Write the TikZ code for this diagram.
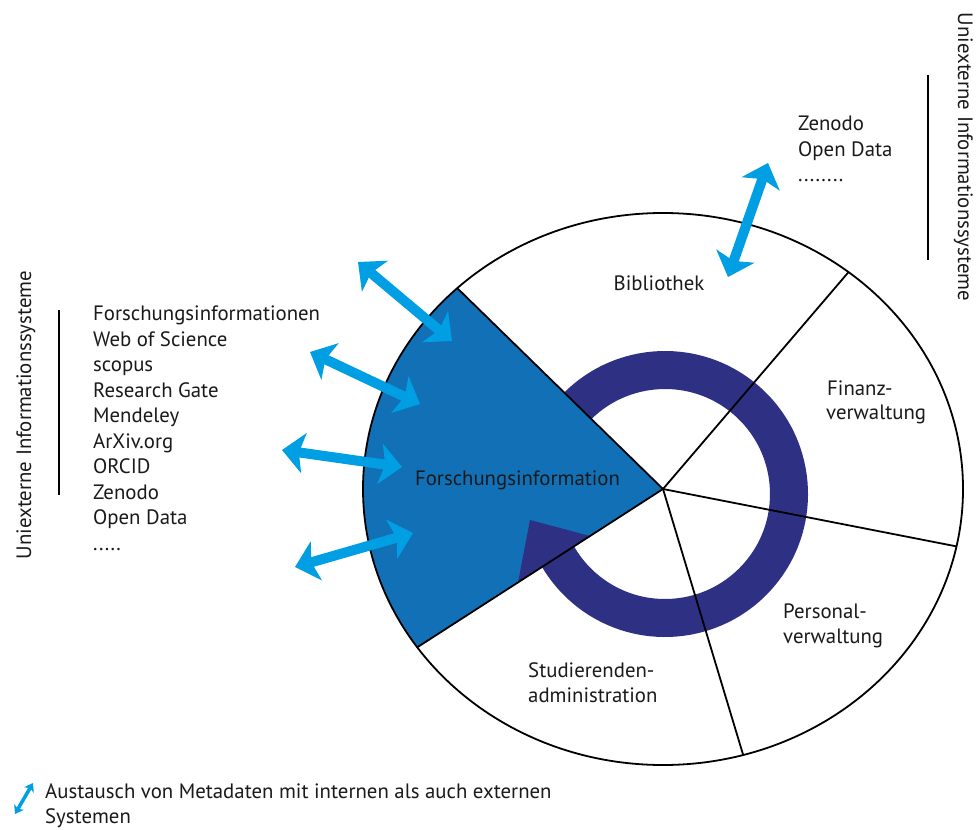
\documentclass[tikz,border=0pt]{standalone}
\usepackage{fontspec}
\setmainfont{PT Sans}
\usetikzlibrary{arrows.meta,calc}
\definecolor{fblue}{RGB}{18,112,183}
\definecolor{navy}{RGB}{46,48,131}
\definecolor{cyanA}{RGB}{0,159,227}
\definecolor{txt}{RGB}{26,26,26}
\begin{document}
\begin{tikzpicture}[x=1pt,y=-1pt,
  lbl/.style={font=\fontsize{20.8}{25}\selectfont, text=txt, inner sep=0pt},
  xarrow/.style={cyanA, line width=10pt, {Stealth[length=22pt,width=40pt,inset=5pt]}-{Stealth[length=22pt,width=40pt,inset=5pt]}},
  smallarrow/.style={cyanA, line width=3.5pt, {Stealth[length=8pt,width=11pt,inset=2pt]}-{Stealth[length=8pt,width=11pt,inset=2pt]}},
  edge/.style={line width=1.8pt, black},
  bar/.style={line width=1.8pt, black}]
\useasboundingbox (0,0) rectangle (976,829);
\fill[white] (0,0) rectangle (976,829);
% geometry
\coordinate (C) at (663,489);
\coordinate (R) at (665,494);
\coordinate (P1) at ($(C)+(226.7:300 and 276)$);
\coordinate (P2) at ($(C)+(145:300 and 276)$);
\coordinate (P3) at ($(C)+(-51.8:300 and 276)$);
\coordinate (P4) at ($(C)+(12:300 and 276)$);
\coordinate (P5) at ($(C)+(74.5:300 and 276)$);
% ring
\draw[navy, line width=38pt] ($(R)+(220:124)$) arc[start angle=220, end angle=520, radius=124];
% blue sector
\fill[fblue] (C) -- (P2) arc[start angle=145, end angle=226.7, x radius=300, y radius=276] -- cycle;
% arrow tip of ring
\coordinate (T1) at (530,520);
\coordinate (T2) at (590,536);
\coordinate (T3) at (518,582.5);
\fill[navy] (T1) -- (T2) -- (T3) -- cycle;
% outline and spokes
\draw[edge] (C) ellipse[x radius=300, y radius=276];
\draw[edge] (C) -- (P1);
\draw[edge] (C) -- (P2);
\draw[edge] (C) -- (P3);
\draw[edge] (C) -- (P4);
\draw[edge] (C) -- (P5);
% exchange arrows
\coordinate (A1a) at (358,262); \coordinate (A1b) at (452,341);
\coordinate (A2a) at (310,352); \coordinate (A2b) at (420,404);
\coordinate (A3a) at (282,450); \coordinate (A3b) at (402,467);
\coordinate (A4a) at (295,567); \coordinate (A4b) at (413,533);
\coordinate (A5a) at (768,163); \coordinate (A5b) at (728,277);
\draw[xarrow] (A1a) -- (A1b);
\draw[xarrow] (A2a) -- (A2b);
\draw[xarrow] (A3a) -- (A3b);
\draw[xarrow] (A4a) -- (A4b);
\draw[xarrow] (A5a) -- (A5b);
% sector labels
\node[lbl, anchor=base] (fi) at (517.5,485) {Forschungsinformation};
\node[lbl, anchor=base] (bib) at (659,290) {Bibliothek};
\node[lbl, anchor=base west] (fin1) at (827,395) {Finanz-};
\node[lbl, anchor=base west] (fin2) at (826,419) {verwaltung};
\node[lbl, anchor=base west] (per1) at (783,618) {Personal-};
\node[lbl, anchor=base west] (per2) at (783,643) {verwaltung};
\node[lbl, anchor=base west] (stu1) at (528,677) {Studierenden-};
\node[lbl, anchor=base west] (stu2) at (528,702) {administration};
% external list right
\node[lbl, anchor=base west] (z1) at (798,131) {Zenodo};
\node[lbl, anchor=base west] (z2) at (798,157) {Open Data};
\node[lbl, anchor=base west] (z3) at (798,182) {........};
\coordinate (B2a) at (928,75); \coordinate (B2b) at (928,260);
\draw[bar] (B2a) -- (B2b);
\node[lbl, rotate=-90, anchor=base] (ttlR) at (958,157) {Uniexterne Informationssysteme};
% external list left
\node[lbl, anchor=base west] (li0) at (93,320.7) {Forschungsinformationen};
\node[lbl, anchor=base west] (li1) at (93,346.2) {Web of Science};
\node[lbl, anchor=base west] (li2) at (93,371.7) {scopus};
\node[lbl, anchor=base west] (li3) at (93,397.2) {Research Gate};
\node[lbl, anchor=base west] (li4) at (93,422.7) {Mendeley};
\node[lbl, anchor=base west] (li5) at (93,448.2) {ArXiv.org};
\node[lbl, anchor=base west] (li6) at (93,473.7) {ORCID};
\node[lbl, anchor=base west] (li7) at (93,499.2) {Zenodo};
\node[lbl, anchor=base west] (li8) at (93,524.7) {Open Data};
\node[lbl, anchor=base west] (li9) at (93,550.2) {.....};
\coordinate (B1a) at (59,310); \coordinate (B1b) at (59,495);
\draw[bar] (B1a) -- (B1b);
\node[lbl, rotate=90, anchor=base] (ttlL) at (31,415) {Uniexterne Informationssysteme};
% legend
\coordinate (La) at (33,783); \coordinate (Lb) at (15,814);
\draw[smallarrow] (La) -- (Lb);
\node[lbl, anchor=base west] (leg1) at (45,798) {Austausch von Metadaten mit internen als auch externen};
\node[lbl, anchor=base west] (leg2) at (45,823) {Systemen};
\end{tikzpicture}
\end{document}
